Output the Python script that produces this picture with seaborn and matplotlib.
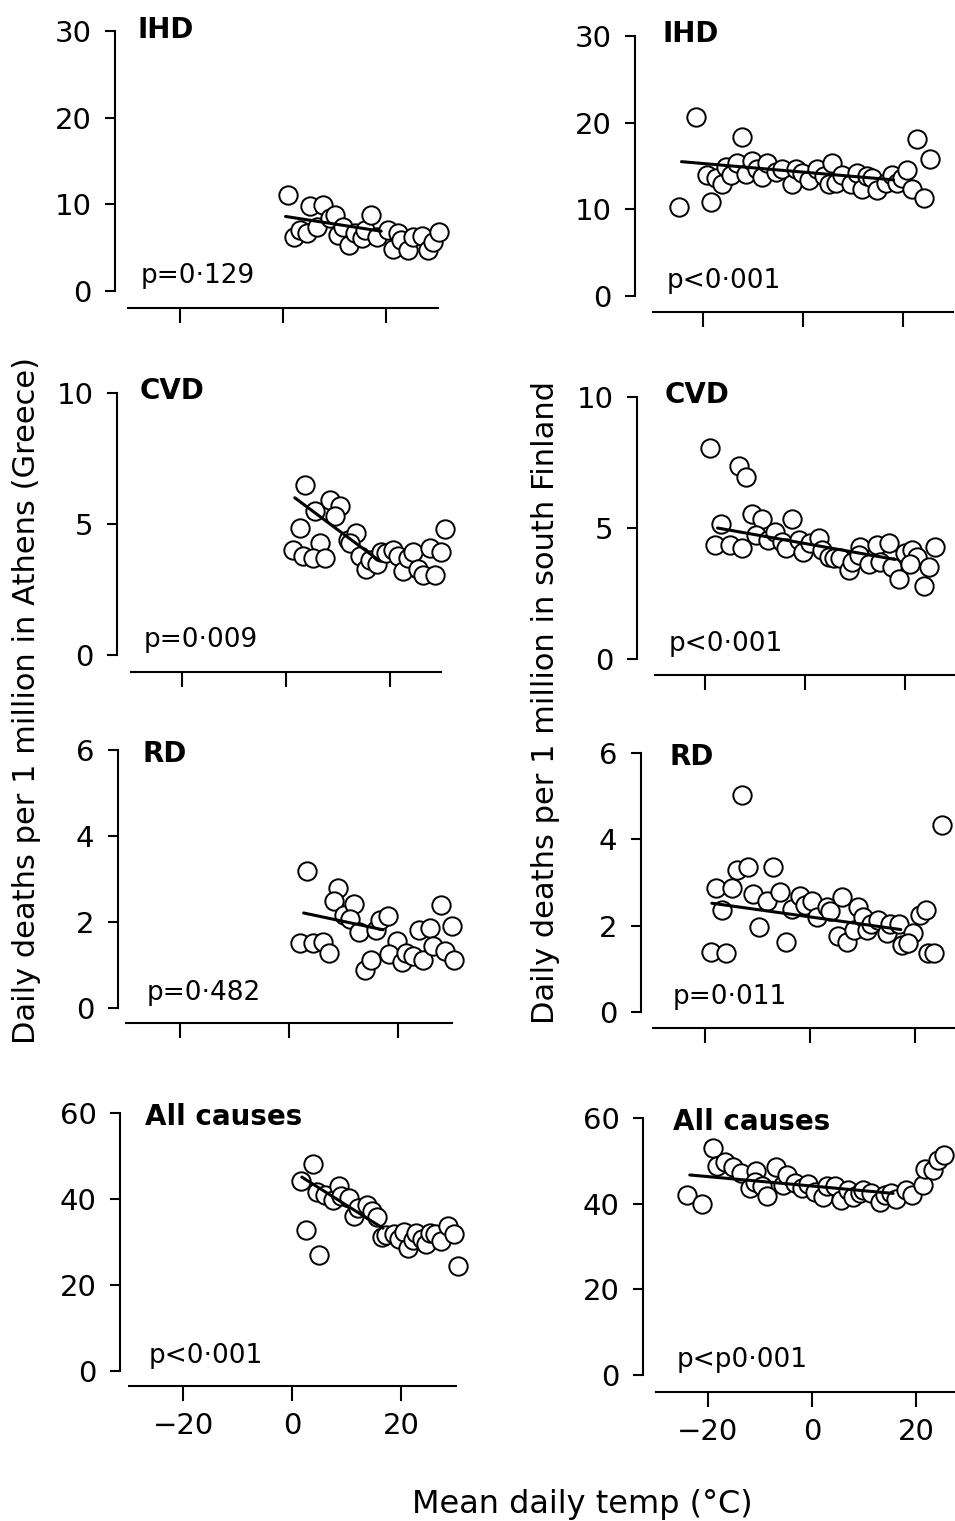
import matplotlib
matplotlib.use('Agg')
import matplotlib.pyplot as plt
import seaborn as sns

# ---- data (temp in deg C, daily deaths per 1 million) ----
# Athens
ath_ihd_t = [0.9, 2.1, 3.3, 4.6, 5.3, 6.6, 7.8, 9.0, 10.1, 10.7, 11.7, 12.7, 14.0, 15.2,
             15.9, 17.0, 18.1, 20.4, 21.3, 22.3, 22.9, 24.2, 25.2, 26.8, 28.1, 29.1, 30.2]
ath_ihd_d = [11.1, 6.2, 7.0, 6.7, 9.8, 7.4, 9.9, 8.4, 8.8, 6.5, 7.4, 5.3, 6.7, 6.1,
             7.0, 8.8, 6.2, 7.0, 4.9, 6.7, 5.9, 4.7, 6.2, 6.3, 4.7, 5.6, 6.8]
ath_ihd_fit_t = [0.5, 19.0]
ath_ihd_fit_d = [8.6, 6.9]

ath_cvd_t = [3.7, 2.7, 1.4, 3.3, 5.6, 6.5, 5.3, 7.5, 8.5, 10.4, 9.5, 12.0, 13.6, 12.3, 14.2,
             15.5, 16.2, 17.5, 18.4, 19.4, 20.7, 21.7, 22.6, 23.6, 24.6, 25.5, 26.5, 27.8,
             28.7, 30.0, 30.7]
ath_cvd_d = [6.5, 4.84, 4.0, 3.76, 5.5, 4.27, 3.7, 3.7, 5.9, 5.7, 5.3, 4.4, 4.65, 4.27, 3.76,
             3.27, 3.63, 3.48, 3.95, 3.9, 4.0, 3.76, 3.2, 3.7, 3.95, 3.3, 3.06, 4.08,
             3.06, 3.95, 4.8]
ath_cvd_fit_t = [1.7, 17.8]
ath_cvd_fit_d = [6.0, 3.63]

ath_rd_t = [3.3, 2.1, 4.5, 6.3, 7.3, 9.0, 8.2, 10.1, 12.0, 11.2, 12.8, 14.0, 15.1, 16.1, 16.8,
            18.2, 19.9, 18.5, 20.8, 21.6, 22.8, 23.9, 24.7, 26.0, 26.6, 28.0, 28.8, 30.0, 30.4]
ath_rd_d = [3.19, 1.51, 1.51, 1.54, 1.28, 2.8, 2.49, 2.16, 2.41, 2.08, 1.77, 0.89, 1.11, 1.81,
            2.04, 2.14, 1.56, 1.25, 1.07, 1.28, 1.2, 1.82, 1.11, 1.87, 1.44, 2.39, 1.33, 1.9, 1.11]
ath_rd_fit_t = [2.7, 17.3]
ath_rd_fit_d = [2.21, 1.82]

ath_all_t = [1.7, 3.9, 2.6, 4.9, 4.5, 6.1, 7.6, 8.7, 8.9, 10.4, 11.4, 12.2, 13.8, 14.7, 15.6,
             16.5, 17.3, 18.7, 19.6, 20.6, 21.2, 22.2, 22.8, 23.9, 24.5, 25.4, 26.3, 27.3,
             28.7, 29.7, 30.4]
ath_all_d = [44.1, 48.2, 32.9, 27.0, 41.7, 40.9, 39.8, 43.0, 40.6, 40.2, 36.1, 37.8, 38.6, 37.1,
             35.7, 31.2, 31.6, 31.9, 30.6, 32.4, 28.5, 30.5, 32.2, 30.6, 29.5, 32.0, 31.9, 30.3,
             33.7, 31.9, 24.4]
ath_all_fit_t = [1.8, 16.7]
ath_all_fit_d = [45.1, 33.2]

# south Finland
fin_ihd_t = [-24.9, -21.5, -18.5, -19.2, -17.5, -16.2, -15.5, -14.5, -13.2, -12.2, -11.5, -10.2,
             -9.2, -8.2, -7.2, -5.5, -4.2, -2.2, -1.5, -0.2, 1.1, 2.8, 4.1, 5.1, 5.8, 6.5, 7.8,
             9.5, 10.8, 11.8, 12.8, 13.8, 14.8, 16.5, 17.8, 18.8, 19.8, 20.8, 21.8, 22.8, 24.1, 25.3]
fin_ihd_d = [10.3, 20.6, 10.9, 14.0, 13.6, 12.9, 14.9, 14.0, 15.3, 18.3, 14.1, 15.6,
             14.7, 13.7, 15.3, 14.3, 14.7, 12.9, 14.7, 14.2, 13.4, 14.7, 13.8, 12.9, 15.4, 13.0, 14.0,
             12.9, 14.2, 12.4, 13.8, 13.6, 12.2, 13.0, 14.0, 13.0, 13.6, 14.5, 12.3, 18.1, 11.3, 15.8]
fin_ihd_fit_t = [-24.3, 18.1]
fin_ihd_fit_d = [15.5, 13.4]

fin_cvd_t = [-19.1, -13.3, -11.8, -16.9, -18.0, -15.0, -12.7, -10.7, -8.7, -9.8, -7.5, -6.0,
             -4.7, -3.8, -2.7, -1.3, -0.5, 1.0, 2.7, 3.3, 4.7, 5.7, 7.0, 8.7, 9.3, 11.0, 10.7,
             12.7, 14.3, 15.0, 16.7, 17.3, 18.7, 20.0, 21.3, 22.3, 21.0, 24.7, 23.7, 26.0]
fin_cvd_d = [8.06, 7.36, 6.95, 5.15, 4.35, 4.35, 4.25, 5.53, 5.33, 4.73, 4.54, 4.86,
             4.48, 4.23, 5.33, 4.54, 4.1, 4.42, 4.6, 4.16, 3.9, 3.85, 3.85, 3.4, 3.72, 4.29, 3.97,
             3.63, 4.35, 3.72, 4.42, 3.53, 3.05, 4.04, 4.16, 3.9, 3.63, 3.53, 2.79, 4.29]
fin_cvd_fit_t = [-17.5, 18.0]
fin_cvd_fit_d = [5.0, 3.8]

fin_rd_t = [-18.9, -16.0, -17.9, -16.8, -14.8, -14.0, -13.0, -11.9, -10.8, -9.7, -8.1, -7.1,
            -5.7, -4.6, -3.5, -2.0, -1.0, 0.3, 1.4, 3.2, 3.9, 5.4, 6.0, 7.0, 8.3, 9.2, 10.0,
            10.8, 11.7, 13.0, 14.7, 15.2, 17.0, 17.6, 19.7, 18.6, 21.0, 22.1, 22.5, 23.6, 25.1]
fin_rd_d = [1.40, 1.37, 2.87, 2.36, 2.87, 3.28, 5.02, 3.36, 2.74, 1.96, 2.56, 3.37,
            2.77, 1.63, 2.38, 2.69, 2.48, 2.56, 2.21, 2.44, 2.33, 1.76, 2.67, 1.63, 1.9, 2.44, 2.19,
            1.91, 2.05, 2.13, 1.82, 2.05, 2.05, 1.55, 1.82, 1.6, 2.25, 2.36, 1.37, 1.36, 4.33]
fin_rd_fit_t = [-18.7, 17.3]
fin_rd_fit_d = [2.52, 1.91]

fin_all_t = [-24.0, -21.1, -19.0, -18.3, -16.8, -15.1, -13.6, -12.0, -10.8, -11.0, -9.7, -8.7,
             -6.9, -5.6, -4.8, -3.3, -1.9, -0.8, 0.5, 2.1, 2.9, 4.4, 5.6, 6.9, 7.9, 9.2, 9.8,
             11.4, 13.0, 14.0, 15.1, 16.2, 18.0, 19.3, 21.3, 21.7, 23.3, 24.2, 25.4]
fin_all_d = [42.0, 39.9, 52.9, 48.8, 49.8, 48.5, 47.1, 43.6, 47.7, 45.1, 44.1, 41.8,
             48.5, 44.4, 46.7, 44.9, 43.6, 44.7, 42.8, 41.6, 44.1, 44.1, 40.9, 43.2, 41.6, 42.4, 43.2,
             42.4, 40.5, 42.0, 42.6, 41.2, 43.2, 42.0, 44.4, 48.2, 47.9, 50.2, 51.4]
fin_all_fit_t = [-23.5, 15.6]
fin_all_fit_d = [46.7, 42.4]

causes = ['IHD', 'CVD', 'RD', 'All causes']
y_max = [30, 10, 6, 60]
y_ticks = [[0, 10, 20, 30], [0, 5, 10], [0, 2, 4, 6], [0, 20, 40, 60]]
x_ticks = [-20, 0, 20]
athens_p = ['p=0·129', 'p=0·009', 'p=0·482', 'p<0·001']
finland_p = ['p<0·001', 'p<0·001', 'p=0·011', 'p<p0·001']

athens = [(ath_ihd_t, ath_ihd_d, ath_ihd_fit_t, ath_ihd_fit_d),
          (ath_cvd_t, ath_cvd_d, ath_cvd_fit_t, ath_cvd_fit_d),
          (ath_rd_t, ath_rd_d, ath_rd_fit_t, ath_rd_fit_d),
          (ath_all_t, ath_all_d, ath_all_fit_t, ath_all_fit_d)]
finland = [(fin_ihd_t, fin_ihd_d, fin_ihd_fit_t, fin_ihd_fit_d),
           (fin_cvd_t, fin_cvd_d, fin_cvd_fit_t, fin_cvd_fit_d),
           (fin_rd_t, fin_rd_d, fin_rd_fit_t, fin_rd_fit_d),
           (fin_all_t, fin_all_d, fin_all_fit_t, fin_all_fit_d)]

# ---- layout in pixels: y spine x, x of 0 deg, px per deg, y top, y bottom, x-axis y ----
W, H = 955, 1521
left_geo = [(115, 283, 5.17, 31, 291, 308), (117, 286, 5.18, 393, 655, 672),
            (118, 289, 5.43, 750, 1008, 1023), (120, 292, 5.45, 1113, 1371, 1386)]
right_geo = [(635, 803, 5.0, 36, 296, 312), (637, 805, 5.0, 397, 659, 675),
             (641, 810, 5.25, 753, 1012, 1028), (643, 812, 5.2, 1118, 1375, 1392)]
title_x = [0.03, 0.03, 0.05, 0.05]
title_y = [0.975, 0.978, 0.953, 0.953]

sns.set_theme(style='ticks')
plt.rcParams['font.family'] = ['DejaVu Sans']
plt.rcParams['text.color'] = 'black'

fig = plt.figure(figsize=(W / 100, H / 100), dpi=100)


def panel(geo, row, data, ptext, title_dx):
    spine_px, x0, sc, ytop, ybot, xax = geo
    left_px = x0 - 30 * sc
    ax = fig.add_axes([left_px / W, 1 - ybot / H, 60 * sc / W, (ybot - ytop) / H])
    t, d, ft, fd = data
    sns.scatterplot(x=t, y=d, ax=ax, s=175, color='white', edgecolor='black',
                    linewidth=1.4, clip_on=False, zorder=2)
    sns.lineplot(x=ft, y=fd, ax=ax, color='black', linewidth=2.2, zorder=3)
    ax.set_xlim(-30, 30)
    ax.set_ylim(0, y_max[row])
    ax.set_yticks(y_ticks[row])
    ax.set_xticks(x_ticks)
    for s in ['top', 'right']:
        ax.spines[s].set_visible(False)
    ax.spines['left'].set_position(('outward', (left_px - spine_px) * 0.72))
    ax.spines['bottom'].set_position(('outward', (xax - ybot) * 0.72))
    ax.spines['left'].set_bounds(0, y_max[row])
    ax.spines['bottom'].set_bounds(-30, 30)
    for s in ['left', 'bottom']:
        ax.spines[s].set_linewidth(1.5)
        ax.spines[s].set_color('black')
    ax.tick_params(axis='y', length=7, width=1.5, pad=10, labelsize=21, colors='black')
    ax.tick_params(axis='x', length=11, width=1.5, pad=8, labelsize=21, colors='black')
    if row < 3:
        ax.tick_params(axis='x', labelbottom=False)
    ax.set_xlabel('')
    ax.set_ylabel('')
    ax.text(title_x[row] + title_dx, title_y[row], causes[row], transform=ax.transAxes,
            fontsize=20, fontweight='bold', va='baseline', ha='left', color='black')
    ax.text(title_x[row] + title_dx + 0.012, 0.03, ptext, transform=ax.transAxes,
            fontsize=19, va='baseline', ha='left', color='black')
    return ax


for i in range(4):
    panel(left_geo[i], i, athens[i], athens_p[i], 0.0)
    panel(right_geo[i], i, finland[i], finland_p[i], 0.003)

fig.text(27 / W, 1 - 700 / H, 'Daily deaths per 1 million in Athens (Greece)',
         rotation=90, ha='center', va='center', fontsize=22, color='black')
fig.text(545 / W, 1 - 703 / H, 'Daily deaths per 1 million in south Finland',
         rotation=90, ha='center', va='center', fontsize=22, color='black')
fig.text(582 / W, 1 - 1504 / H, 'Mean daily temp (°C)', ha='center', va='center',
         fontsize=23, color='black')

fig.savefig('out.png', dpi=100, facecolor='white')
